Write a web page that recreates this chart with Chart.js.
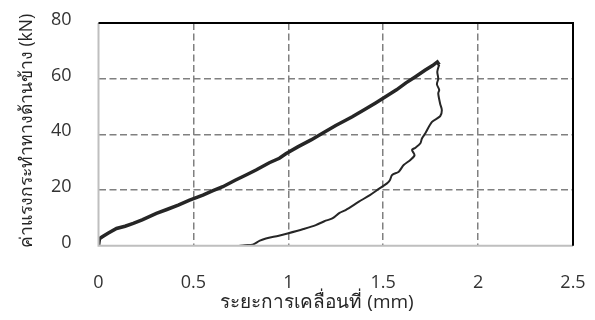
<!DOCTYPE html>
<html><head><meta charset="utf-8">
<script src="https://cdn.jsdelivr.net/npm/chart.js@4/dist/chart.umd.min.js"></script>
<style>html,body{margin:0;padding:0;background:#fff;}canvas{display:block;}</style>
</head><body>
<canvas id="c" width="595" height="320"></canvas>
<script>
const xTicks = [0, 0.5, 1, 1.5, 2, 2.5];
const yTicks = [0, 20, 40, 60, 80];
const xTitle = 'ระยะการเคลื่อนที่ (mm)';
const yTitle = 'ค่าแรงกระทำทางด้านข้าง (kN)';
const loadX = [0,0.005,0.02,0.05,0.095,0.14,0.183,0.23,0.305,0.36,0.42,0.48,0.55,0.6,0.655,0.72,0.78,0.83,0.9,0.953,0.987,1.05,1.12,1.18,1.25,1.3,1.337,1.4,1.46,1.512,1.57,1.62,1.67,1.72,1.76,1.785,1.795];
const loadY = [0,2.5,3.2,4.5,6.2,7.0,8.0,9.3,11.6,13.0,14.6,16.4,18.2,19.7,21.2,23.5,25.5,27.2,29.8,31.4,33.0,35.5,38.0,40.4,43.2,45.0,46.3,48.8,51.3,53.5,56.0,58.5,60.7,63.0,64.7,66.0,65.0];
const unloadX = [1.795,1.785,1.79,1.783,1.795,1.79,1.80,1.809,1.80,1.757,1.722,1.704,1.696,1.67,1.652,1.665,1.643,1.608,1.582,1.547,1.535,1.52,1.477,1.43,1.372,1.302,1.27,1.232,1.19,1.145,1.08,0.996,0.95,0.882,0.85,0.812,0.77,0.72,0.681];
const unloadY = [65.0,62.5,60,58,56,54.7,51,48.7,46.5,44.5,40.4,38.5,36.8,35.2,34.4,32.5,30.8,29,26.6,25.4,23.5,22.4,20.4,18.2,15.8,12.8,11.8,9.8,8.8,7.4,6.0,4.4,3.6,2.6,1.8,0.4,0.2,-0.3,-0.3];

const FONT = '"Open Sans","Noto Sans",sans-serif';
const toPts = (xs, ys) => xs.map((x, i) => ({x: x, y: ys[i]}));
const noPad = s => { s.paddingTop = 0; s.paddingBottom = 0; s.paddingLeft = 0; s.paddingRight = 0; };

const framePlugin = {
  id: 'frame',
  afterDraw(chart) {
    const {ctx, chartArea: a} = chart;
    ctx.save();
    ctx.lineWidth = 2;
    ctx.strokeStyle = '#bfbfbf';
    ctx.beginPath();
    ctx.moveTo(a.left, a.top); ctx.lineTo(a.left, a.bottom); ctx.lineTo(a.right, a.bottom);
    ctx.stroke();
    ctx.strokeStyle = '#000';
    ctx.beginPath();
    ctx.moveTo(a.left, a.top); ctx.lineTo(a.right, a.top); ctx.lineTo(a.right, a.bottom);
    ctx.stroke();
    ctx.fillStyle = '#262626';
    ctx.textAlign = 'center';
    ctx.textBaseline = 'middle';
    ctx.font = '19px ' + FONT;
    ctx.fillText(xTitle, 317, 303);
    ctx.translate(27, 131);
    ctx.rotate(-Math.PI / 2);
    ctx.font = '17.5px ' + FONT;
    ctx.fillText(yTitle, 0, 0);
    ctx.restore();
  }
};

new Chart(document.getElementById('c'), {
  type: 'scatter',
  data: {
    datasets: [
      {data: toPts(loadX, loadY), showLine: true, borderColor: '#262626', borderWidth: 3.5, pointRadius: 0, tension: 0},
      {data: toPts(unloadX, unloadY), showLine: true, borderColor: '#262626', borderWidth: 2, pointRadius: 0, tension: 0.3}
    ]
  },
  options: {
    responsive: false,
    animation: false,
    devicePixelRatio: 1,
    layout: {padding: {top: 23, right: 22, bottom: 0, left: 0}},
    plugins: {legend: {display: false}, tooltip: {enabled: false}},
    scales: {
      x: {
        type: 'linear', min: 0, max: 2.5,
        afterBuildTicks: s => { s.ticks = xTicks.map(v => ({value: v})); },
        afterFit: s => { s.height = 74.3; noPad(s); },
        border: {display: false, dash: [7, 3.5]},
        grid: {drawTicks: false, lineWidth: 1.5, color: c => (c.tick && (c.tick.value === 0 || c.tick.value === 2.5)) ? 'rgba(0,0,0,0)' : '#808080'},
        ticks: {padding: 26, color: '#333', font: {family: FONT, size: 18}, maxRotation: 0, callback: v => String(v)}
      },
      y: {
        type: 'linear', min: 0, max: 80,
        afterBuildTicks: s => { s.ticks = yTicks.map(v => ({value: v})); },
        afterFit: s => { s.width = 98.5; noPad(s); },
        border: {display: false, dash: [7, 3.5]},
        grid: {drawTicks: false, lineWidth: 1.5, color: c => (c.tick && (c.tick.value === 0 || c.tick.value === 80)) ? 'rgba(0,0,0,0)' : '#808080'},
        ticks: {padding: 27, labelOffset: -3, color: '#333', font: {family: FONT, size: 18}, callback: v => String(v)}
      }
    }
  },
  plugins: [framePlugin]
});
</script>
</body></html>
